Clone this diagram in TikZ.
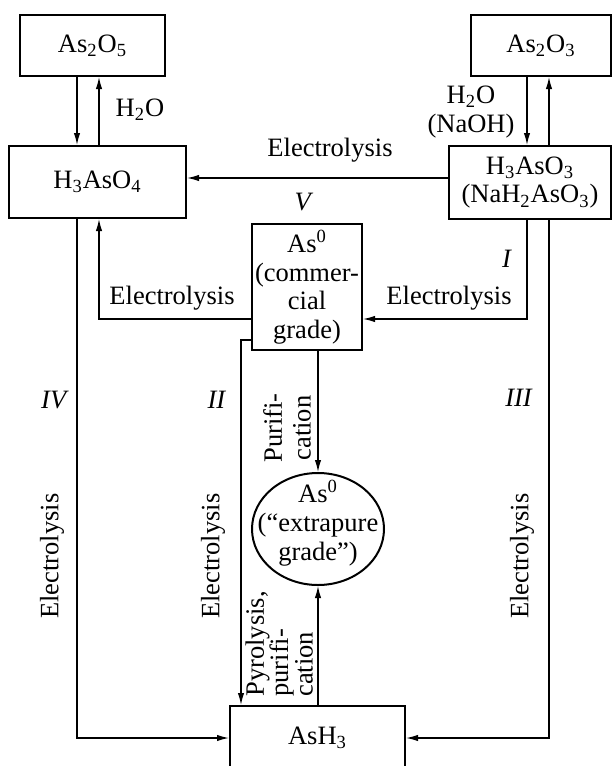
\documentclass[tikz,border=0pt]{standalone}
\usepackage{fontspec}
\setmainfont{Liberation Serif}
\usetikzlibrary{arrows.meta,shapes.geometric,positioning}

\tikzset{
    box/.style={draw, line width=1pt, align=center, inner sep=1pt},
    link/.style={line width=0.65pt, -{Latex[length=6pt,width=3.2pt]}},
    lab/.style={align=center, inner sep=1pt}
}

\begin{document}
\begin{tikzpicture}[x=0.5pt, y=-0.5pt, font=\fontsize{13.25}{14.3}\selectfont]
    % Fix the frame
    \useasboundingbox (0,0) rectangle (613,766);

    % Draw the compound boxes
    \node[box, minimum width=72.5pt, minimum height=30.5pt] (as2o5) at (92.5,45.5) {As\textsubscript{2}O\textsubscript{5}};
    \node[box, minimum width=88.5pt, minimum height=36pt] (h3aso4) at (97.5,182) {H\textsubscript{3}AsO\textsubscript{4}};
    \node[box, minimum width=70pt, minimum height=30.5pt] (as2o3) at (541,45.5) {As\textsubscript{2}O\textsubscript{3}};
    \node[box, minimum width=81pt, minimum height=36.5pt] (h3aso3) at (530,182.5) {H\textsubscript{3}AsO\textsubscript{3}\\(NaH\textsubscript{2}AsO\textsubscript{3})};
    \node[box, minimum width=55pt, minimum height=63pt, inner sep=0pt] (as0c) at (307,287) {As\textsuperscript{0}\\(commer-\\cial\\grade)};
    \node[box, minimum width=87.5pt, minimum height=32pt] (ash3) at (317.5,738) {AsH\textsubscript{3}};

    % Extrapure grade
    \node[draw, ellipse, line width=1pt, minimum width=66pt, minimum height=56pt, inner sep=0pt] (pure) at (318,529) {};
    \node[lab] (puretext) at (318,523) {As\textsuperscript{0}\\(``extrapure\\grade'')};

    % Oxides and acids
    \draw[link] (as2o5.south -| 77,0) -- (h3aso4.north -| 77,0);
    \draw[link] (h3aso4.north -| 99,0) -- (as2o5.south -| 99,0);
    \node[lab] (waterA) at (140,110) {H\textsubscript{2}O};
    \draw[link] (as2o3.south -| 527,0) -- (h3aso3.north -| 527,0);
    \draw[link] (h3aso3.north -| 549,0) -- (as2o3.south -| 549,0);
    \node[lab] (waterB) at (471,112) {H\textsubscript{2}O\\(NaOH)};

    % Route V
    \draw[link] (h3aso3.west |- 0,178) -- (h3aso4.east |- 0,178);
    \node[lab] (elV) at (330,150) {Electrolysis};
    \node[lab] (romV) at (304,202) {\textit{V}};
    \draw[link] (as0c.west |- 0,319) -| (h3aso4.south -| 99,0);
    \node[lab] (elVb) at (172,298) {Electrolysis};

    % Route I
    \draw[link] (h3aso3.south -| 527,0) |- (as0c.east |- 0,319);
    \node[lab] (romI) at (507,259) {\textit{I}};
    \node[lab] (elI) at (449,298) {Electrolysis};

    % Route II
    \draw[link] (as0c.west |- 0,340) -| (ash3.north -| 241,0);
    \node[lab] (romII) at (217,400) {\textit{II}};
    \node[lab, rotate=90] (elII) at (213,556) {Electrolysis};

    % Route IV
    \draw[link] (h3aso4.south -| 77,0) |- (ash3.west);
    \node[lab] (romIV) at (55,400) {\textit{IV}};
    \node[lab, rotate=90] (elIV) at (52,556) {Electrolysis};

    % Route III
    \draw[link] (h3aso3.south -| 549,0) |- (ash3.east);
    \node[lab] (romIII) at (519,398) {\textit{III}};
    \node[lab, rotate=90] (elIII) at (522,556) {Electrolysis};

    % Purification
    \draw[link] (as0c.south -| pure.north) -- (pure.north);
    \node[lab, rotate=90] (purif) at (287,428) {Purifi-\\cation};
    \draw[link] (ash3.north -| pure.south) -- (pure.south);
    \node[lab, rotate=90, anchor=north west, align=left, font=\fontsize{13.25}{12.2}\selectfont] (pyro) at (243,699) {Pyrolysis,\\purifi-\\cation};
\end{tikzpicture}
\end{document}
